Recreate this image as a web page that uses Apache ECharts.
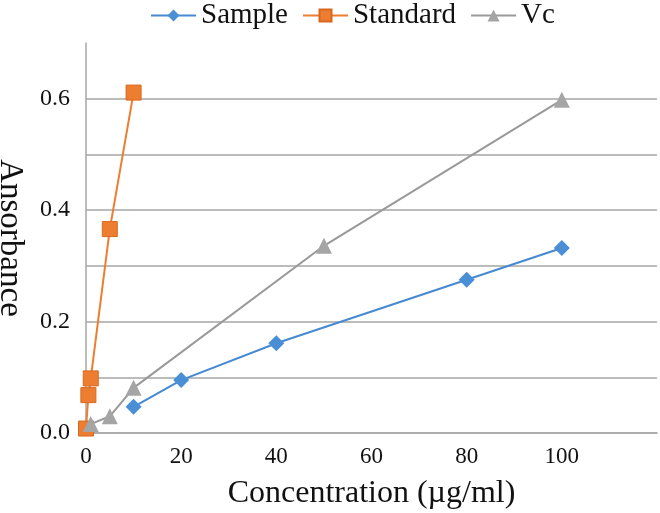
<!DOCTYPE html>
<html>
<head>
<meta charset="utf-8">
<script src="https://cdn.jsdelivr.net/npm/echarts@6/dist/echarts.min.js"></script>
<style>html,body{margin:0;padding:0;background:#fff;}#c{width:660px;height:513px;}</style>
</head>
<body>
<div id="c"></div>
<script>
const seriesNames = ['Sample', 'Standard', 'Vc'];
const sampleX = [10, 20, 40, 80, 100];
const sampleY = [0.047, 0.095, 0.161, 0.275, 0.332];
const standardX = [0, 0.5, 1, 5, 10];
const standardY = [0.008, 0.068, 0.098, 0.366, 0.611];
const vcX = [1, 5, 10, 50, 100];
const vcY = [0.016, 0.030, 0.081, 0.336, 0.598];
const xTicks = [0, 20, 40, 60, 80, 100];
const yTicks = [0.0, 0.2, 0.4, 0.6];

const zip = (xs, ys) => xs.map((x, i) => [x, ys[i]]);
const font = "'Liberation Serif', 'Times New Roman', serif";
const chart = echarts.init(document.getElementById('c'), null, {renderer: 'canvas'});
chart.setOption({
  animation: false,
  backgroundColor: '#fff',
  legend: {
    top: -4,
    left: 145,
    itemWidth: 45,
    itemHeight: 15,
    itemGap: 14,
    textStyle: {fontFamily: font, fontSize: 29, color: '#111'},
    data: seriesNames
  },
  grid: {left: 86, right: 3, top: 43, bottom: 80, containLabel: false, outerBoundsMode: 'none'},
  xAxis: {
    type: 'value', min: 0, max: 120, interval: 20,
    name: 'Concentration (µg/ml)', nameLocation: 'middle', nameGap: 45,
    nameTextStyle: {fontFamily: font, fontSize: 32, color: '#111'},
    axisLine: {show: true, onZero: false, lineStyle: {color: '#a6a6a6', width: 1.5}},
    axisTick: {show: false},
    splitLine: {show: false},
    axisLabel: {
      fontFamily: font, fontSize: 23, color: '#111', margin: 12,
      formatter: v => xTicks.includes(v) ? String(v) : ''
    }
  },
  yAxis: {
    type: 'value', min: 0, max: 0.7, interval: 0.1,
    name: 'Ansorbance', nameLocation: 'middle', nameGap: 60, nameRotate: -90,
    nameTextStyle: {fontFamily: font, fontSize: 33, color: '#111'},
    axisLine: {show: true, lineStyle: {color: '#a6a6a6', width: 1.5}},
    axisTick: {show: false},
    splitLine: {show: true, showMaxLine: false, lineStyle: {color: '#a6a6a6', width: 1.5}},
    axisLabel: {
      fontFamily: font, fontSize: 24, color: '#111', margin: 16,
      formatter: v => {
        const r = Math.round(v * 10) / 10;
        return yTicks.some(t => Math.abs(t - r) < 1e-9) ? r.toFixed(1) : '';
      }
    }
  },
  series: [
    {
      name: seriesNames[0], type: 'line', data: zip(sampleX, sampleY),
      symbol: 'diamond', symbolSize: 16,
      lineStyle: {color: '#4589d2', width: 2},
      itemStyle: {color: '#4a8fd6'}
    },
    {
      name: seriesNames[1], type: 'line', data: zip(standardX, standardY),
      symbol: 'rect', symbolSize: 15,
      lineStyle: {color: '#ed7d31', width: 2},
      itemStyle: {color: '#ed7d31', borderColor: '#d9681e', borderWidth: 1}
    },
    {
      name: seriesNames[2], type: 'line', data: zip(vcX, vcY),
      symbol: 'triangle', symbolSize: 16,
      lineStyle: {color: '#999999', width: 2},
      itemStyle: {color: '#a5a5a5'}
    }
  ]
});
</script>
</body>
</html>
